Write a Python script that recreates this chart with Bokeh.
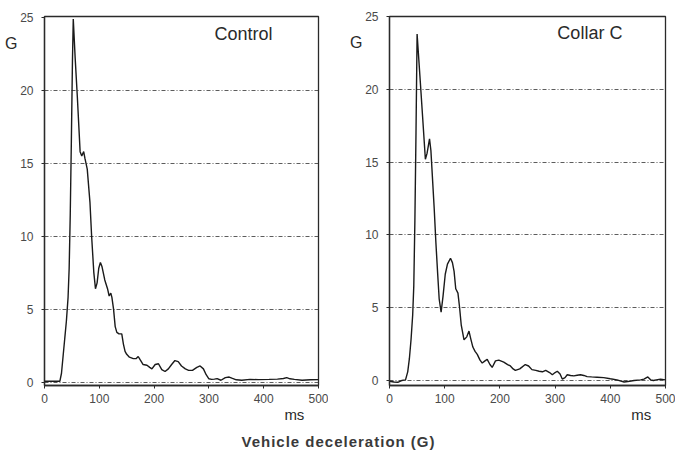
from bokeh.plotting import figure
from bokeh.models import FixedTicker, Label, Div, Range1d, LinearAxis
from bokeh.layouts import row, column
from bokeh.embed import file_html
from bokeh.resources import INLINE

# ---- data ----
x_ticks = [0, 100, 200, 300, 400, 500]
y_ticks = [0, 5, 10, 15, 20, 25]
grid_levels = [0, 5, 10, 15, 20]

control_t = [0, 10, 20, 28, 31, 34, 37, 40, 43, 45, 47, 49, 51, 52.5, 56, 60, 65, 68, 71.5, 74,
             78, 83, 86, 90, 93, 96, 99, 102, 105, 110, 115, 118, 121, 123, 126, 129, 132, 136,
             141, 144, 147, 150, 155, 162, 167, 171, 175, 180, 187, 192, 196, 202, 208, 214, 220,
             226, 232, 238, 244, 250, 257, 263, 270, 278, 284, 290, 295, 300, 305, 310, 315, 322,
             330, 337, 343, 350, 360, 375, 390, 410, 425, 436, 442, 448, 456, 470, 485, 500]
control_g = [0.05, 0.05, 0.05, 0.05, 0.6, 1.8, 3.0, 4.2, 5.8, 7.8, 11.5, 16.5, 22, 24.9, 22.2,
             19.5, 15.8, 15.5, 15.8, 15.3, 14.6, 12.3, 10.0, 7.5, 6.4, 6.8, 7.8, 8.2, 7.9, 7.0, 6.4,
             5.9, 6.1, 5.8, 5.0, 3.8, 3.4, 3.3, 3.3, 2.6, 2.1, 1.9, 1.7, 1.6, 1.6, 1.75, 1.5, 1.2,
             1.15, 1.0, 0.9, 1.2, 1.25, 0.85, 0.72, 0.9, 1.2, 1.47, 1.4, 1.1, 0.9, 0.8, 0.8, 1.0,
             1.1, 0.9, 0.5, 0.22, 0.18, 0.2, 0.23, 0.12, 0.3, 0.34, 0.25, 0.15, 0.12, 0.18, 0.16,
             0.18, 0.2, 0.24, 0.3, 0.22, 0.18, 0.12, 0.15, 0.16]

collar_t = [0, 8, 15, 22, 29, 33, 36, 39, 42, 44, 46, 48, 50, 53, 56, 60, 65, 68, 72.5, 75, 78,
            81, 84, 87, 90, 93.5, 97, 101, 105, 110.5, 114, 117, 120, 124, 127, 130, 135, 140,
            144, 147, 151, 155, 159, 164, 168, 173, 177, 182, 186, 192, 198, 207, 214, 219, 224,
            228, 236, 246, 252, 258, 265, 271, 277, 283, 290, 295, 300, 304, 309, 313, 318, 322,
            328, 334, 340, 346, 352, 358, 366, 376, 388, 400, 412, 425, 435, 443, 455, 461, 468,
            473, 478, 491, 500]
collar_g = [-0.05, -0.1, -0.12, 0.0, 0.05, 0.6, 1.5, 2.8, 4.5, 6.5, 11, 17, 23.8, 22.1, 20.4,
            18.1, 15.2, 15.6, 16.6, 15.8, 13.8, 11.8, 9.5, 7.5, 5.6, 4.7, 5.8, 7.3, 8.0, 8.4, 8.1,
            7.5, 6.3, 6.0, 5.0, 3.8, 2.8, 3.0, 3.4, 2.9, 2.3, 2.0, 1.8, 1.4, 1.2, 1.35, 1.45, 1.1,
            0.9, 1.35, 1.4, 1.26, 1.1, 1.0, 0.8, 0.7, 0.8, 1.1, 1.0, 0.75, 0.7, 0.64, 0.6, 0.7,
            0.55, 0.4, 0.55, 0.64, 0.45, 0.1, 0.2, 0.4, 0.35, 0.32, 0.36, 0.4, 0.35, 0.27, 0.25,
            0.23, 0.2, 0.12, 0.05, -0.1, -0.05, 0.0, 0.05, 0.1, 0.25, 0.05, 0.0, 0.1, 0.05]

panel_titles = ["Control", "Collar C"]
y_unit = "G"
y_unit_at = 23.2
x_unit = "ms"
x_unit_at = 456
overall_title = "Vehicle deceleration (G)"

FONT = "Liberation Sans"
INK = "#2a2a2a"
TICK_INK = "#4a4a4a"


def style_axis(ax, size="12px", color=TICK_INK):
    ax.axis_line_color = INK
    ax.axis_line_width = 1.3
    ax.major_tick_line_color = INK
    ax.major_tick_out = 3
    ax.major_tick_in = 0
    ax.minor_tick_line_color = None
    ax.major_label_text_font = FONT
    ax.major_label_text_font_size = size
    ax.major_label_text_color = color


def make_panel(t, g, name, width, border_left, border_right, border_top, border_bottom, ymin, ymax):
    p = figure(width=width, height=425, output_backend="svg", toolbar_location=None,
               x_range=Range1d(0, 500), y_range=Range1d(ymin, ymax),
               min_border_left=border_left, min_border_right=border_right,
               min_border_top=border_top, min_border_bottom=border_bottom)
    p.outline_line_color = INK
    p.outline_line_width = 1.3
    p.background_fill_color = "white"
    p.border_fill_color = "white"

    style_axis(p.xaxis[0])
    style_axis(p.yaxis[0])
    p.xaxis[0].ticker = FixedTicker(ticks=x_ticks)
    p.yaxis[0].ticker = FixedTicker(ticks=y_ticks)
    p.xaxis[0].major_label_standoff = 5
    p.yaxis[0].major_label_standoff = 8

    # unit labels as extra axes carrying a single labelled tick
    gax = LinearAxis(ticker=FixedTicker(ticks=[y_unit_at]),
                     major_label_overrides={y_unit_at: y_unit})
    style_axis(gax, size="16px", color=INK)
    gax.axis_line_color = None
    gax.major_tick_line_color = None
    gax.major_tick_out = 0
    gax.major_label_standoff = 0
    p.add_layout(gax, "left")

    msax = LinearAxis(ticker=FixedTicker(ticks=[x_unit_at]),
                      major_label_overrides={x_unit_at: x_unit})
    style_axis(msax, size="15px", color=INK)
    msax.axis_line_color = None
    msax.major_tick_line_color = None
    msax.major_tick_out = 0
    msax.major_label_standoff = 0
    p.add_layout(msax, "below")

    p.xgrid.grid_line_color = None
    p.ygrid.ticker = FixedTicker(ticks=grid_levels)
    p.ygrid.grid_line_color = "#333333"
    p.ygrid.grid_line_alpha = 0.8
    p.ygrid.grid_line_width = 1
    p.ygrid.grid_line_dash = "4 2 1 2"

    p.line(t, g, line_color="#1a1a1a", line_width=1.4)

    p.add_layout(Label(x=363, y=23.9, text=name, text_font=FONT, text_font_size="18px",
                       text_color=INK, text_align="center", text_baseline="middle"))
    return p


p1 = make_panel(control_t, control_g, panel_titles[0], 328, 44, 10, 16, 38, -0.24, 25.07)
p2 = make_panel(collar_t, collar_g, panel_titles[1], 347, 61, 10, 15, 40, -0.34, 25.0)

title = Div(text=('<div style="width:667px;text-align:center;font-family:\'Liberation Sans\';'
                  'font-size:15px;font-weight:bold;color:#3a3a3a;letter-spacing:1px;padding-top:1px;">'
                  + overall_title + '</div>'), width=667, height=22)

layout = column(row(p1, p2, spacing=0), title, spacing=0)

open("out.html", "w").write(file_html(layout, INLINE))
